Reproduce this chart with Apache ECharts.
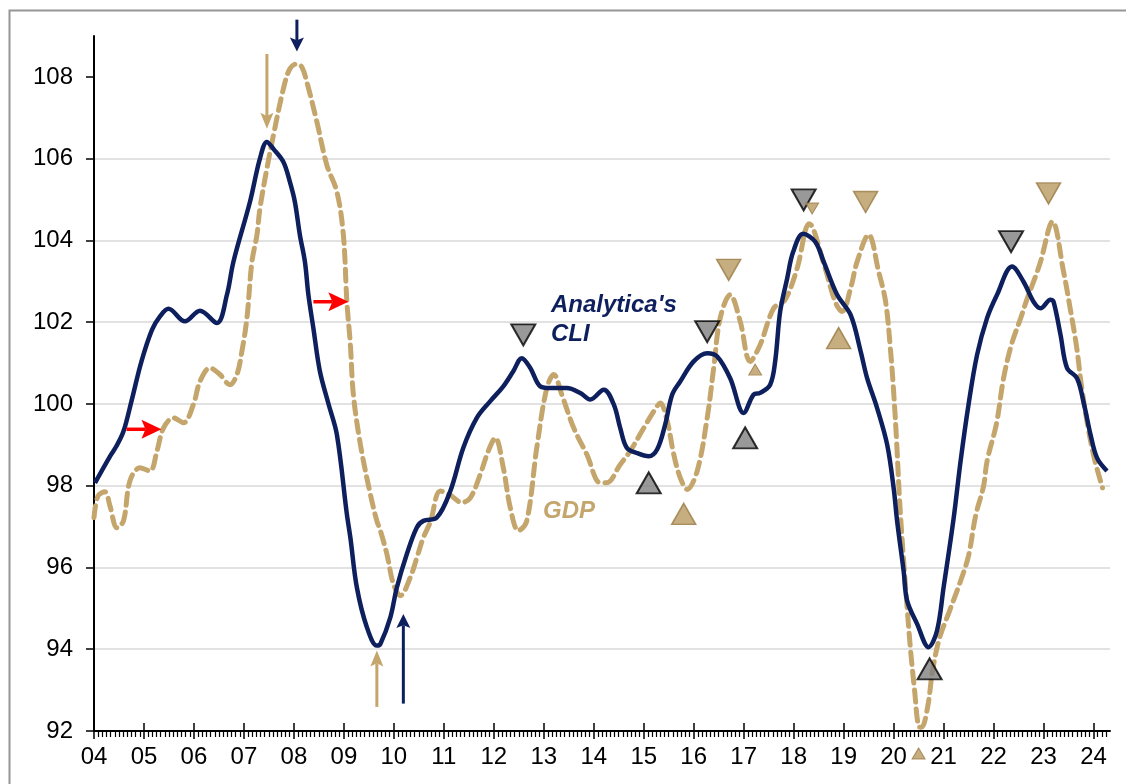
<!DOCTYPE html>
<html>
<head>
<meta charset="utf-8">
<script src="https://cdn.jsdelivr.net/npm/echarts@6/dist/echarts.min.js"></script>
<style>
html,body{margin:0;padding:0;background:#fff;}
#chart{width:1126px;height:784px;}
</style>
</head>
<body>
<div id="chart"></div>
<script>
// ---- Data ----
const yearTicks = [2004,2005,2006,2007,2008,2009,2010,2011,2012,2013,2014,2015,2016,2017,2018,2019,2020,2021,2022,2023,2024];
const valueTicks = [92,94,96,98,100,102,104,106,108];

const cliDates = [2004.02,2004.32,2004.45,2004.59,2004.75,2004.95,2005.16,2005.32,2005.49,2005.82,2006.12,2006.46,2006.66,2006.79,2007.12,2007.32,2007.46,2007.59,2007.79,2007.92,2008.02,2008.12,2008.22,2008.29,2008.39,2008.52,2008.69,2008.86,2009.06,2009.13,2009.26,2009.46,2009.66,2009.73,2009.93,2010.06,2010.26,2010.46,2010.59,2010.86,2011.13,2011.39,2011.66,2011.93,2012.19,2012.39,2012.56,2012.73,2012.93,2013.13,2013.46,2013.73,2013.93,2014.2,2014.4,2014.53,2014.66,2014.86,2015.1,2015.27,2015.43,2015.57,2015.73,2016.0,2016.27,2016.47,2016.73,2017.0,2017.2,2017.33,2017.53,2017.63,2017.73,2017.87,2017.99,2018.19,2018.43,2018.6,2018.87,2019.14,2019.34,2019.47,2019.67,2019.87,2020.0,2020.07,2020.2,2020.27,2020.47,2020.7,2020.87,2021.0,2021.2,2021.34,2021.5,2021.67,2021.87,2022.07,2022.37,2022.6,2022.8,2022.94,2023.14,2023.2,2023.34,2023.47,2023.67,2023.81,2023.94,2024.07,2024.27];
const cliValues = [98.07,98.72,98.97,99.33,100.07,101.04,101.81,102.14,102.33,102.02,102.28,101.98,102.67,103.48,104.94,106.0,106.41,106.24,105.92,105.43,104.94,104.13,103.48,102.67,101.85,100.8,100.01,99.25,97.3,96.73,95.51,94.54,94.09,94.13,94.78,95.51,96.33,96.98,97.14,97.22,97.87,98.93,99.66,100.07,100.43,100.8,101.12,100.88,100.43,100.39,100.39,100.27,100.11,100.35,99.99,99.41,98.93,98.8,98.72,98.89,99.5,100.23,100.55,101.04,101.24,101.16,100.63,99.78,100.23,100.27,100.47,101.04,102.26,103.07,103.72,104.16,103.97,103.48,102.67,102.18,101.29,100.63,99.9,99.01,97.95,97.14,95.92,95.19,94.62,94.05,94.46,95.51,97.19,98.6,99.99,101.2,102.1,102.67,103.36,102.99,102.5,102.34,102.55,102.5,101.69,100.88,100.63,99.99,99.25,98.68,98.36];

const gdpDates = [2004.0,2004.08,2004.22,2004.32,2004.46,2004.59,2004.72,2004.92,2005.12,2005.26,2005.39,2005.59,2005.79,2005.99,2006.12,2006.32,2006.52,2006.72,2006.86,2006.96,2007.06,2007.16,2007.26,2007.32,2007.46,2007.59,2007.79,2007.92,2008.06,2008.16,2008.26,2008.46,2008.66,2008.86,2008.99,2009.06,2009.13,2009.19,2009.33,2009.53,2009.66,2009.73,2009.86,2009.99,2010.13,2010.33,2010.46,2010.59,2010.73,2010.93,2011.13,2011.36,2011.53,2011.73,2011.89,2012.03,2012.19,2012.33,2012.49,2012.66,2012.86,2013.06,2013.2,2013.36,2013.6,2013.86,2014.13,2014.26,2014.53,2014.73,2015.0,2015.2,2015.33,2015.47,2015.6,2015.73,2015.87,2016.07,2016.27,2016.4,2016.53,2016.73,2016.93,2017.13,2017.33,2017.6,2017.83,2018.07,2018.31,2018.63,2018.83,2018.97,2019.14,2019.27,2019.5,2019.7,2019.84,2019.94,2020.0,2020.06,2020.12,2020.2,2020.26,2020.34,2020.42,2020.5,2020.56,2020.68,2020.78,2020.92,2021.12,2021.34,2021.5,2021.64,2021.8,2021.87,2022.06,2022.2,2022.36,2022.54,2022.68,2022.84,2022.94,2023.18,2023.4,2023.52,2023.66,2023.76,2023.88,2024.02,2024.18];
const gdpValues = [97.22,97.75,97.85,97.5,96.97,97.14,98.12,98.44,98.36,98.85,99.41,99.66,99.54,99.99,100.55,100.88,100.72,100.47,100.72,101.29,102.1,103.48,104.13,104.78,105.76,106.57,107.71,108.2,108.32,108.24,107.87,106.9,105.84,105.19,104.13,102.5,101.45,100.23,99.01,97.79,97.14,96.9,96.33,95.6,95.31,95.76,96.24,96.73,97.11,97.87,97.77,97.59,97.7,98.28,98.85,99.17,98.44,97.46,96.9,97.14,98.93,100.39,100.72,100.23,99.41,98.77,98.07,98.07,98.52,98.85,99.41,99.82,100.02,99.58,98.77,98.2,97.91,98.36,99.66,100.88,102.1,102.67,102.02,101.04,101.45,102.34,102.55,103.32,104.41,103.32,102.5,102.26,102.83,103.48,104.14,103.24,102.5,101.29,100.31,99.09,97.63,96.17,95.19,93.97,92.99,92.11,92.09,92.58,93.48,94.28,94.94,95.67,96.29,97.26,97.99,98.6,99.53,100.63,101.46,102.09,102.6,103.12,103.48,104.46,103.24,102.43,101.41,100.43,99.5,98.65,97.95];

// Turning-point markers (date, value)
const cliPeakDates = [2012.59,2016.27,2018.2,2022.35];
const cliPeakValues = [101.69,101.77,104.99,103.97];
const cliTroughDates = [2015.1,2017.03,2020.72];
const cliTroughValues = [98.07,99.17,93.52];
const gdpPeakDates = [2016.7,2019.44,2023.1];
const gdpPeakValues = [103.28,104.94,105.15];
const gdpSmallPeakDates = [2018.37];
const gdpSmallPeakValues = [104.78];
const gdpTroughDates = [2015.8,2018.9];
const gdpTroughValues = [97.31,101.61];
const gdpSmallTroughDates = [2017.23,2020.5];
const gdpSmallTroughValues = [100.84,91.45];

// Arrow annotations: [tailDate, tailValue, tipDate, tipValue]
const navyArrows = [[2008.06,109.4,2008.06,108.62],[2010.19,92.67,2010.19,94.86]];
const tanArrows = [[2007.46,108.56,2007.46,106.73],[2009.66,92.59,2009.66,93.97]];
const redArrows = [[2004.65,99.38,2005.35,99.38],[2008.39,102.5,2009.09,102.5]];

const NAVY = '#0e1f5e';
const TAN = '#c4a56c';
const FONT = 'Arial, "Liberation Sans", sans-serif';

function pairs(xs, ys){ return xs.map((x,i)=>[x, ys[i]]); }

const chart = echarts.init(document.getElementById('chart'), null, {renderer:'canvas'});
const baseGraphic = [
  {type:'rect', left:7, top:8, shape:{x:0,y:0,width:1300,height:900}, style:{fill:'none', stroke:'#969696', lineWidth:2}, z:-1},
  {type:'text', left:551, top:293, style:{text:"Analytica's", fill:NAVY, font:'italic bold 24px '+FONT}},
  {type:'text', left:551, top:322, style:{text:'CLI', fill:NAVY, font:'italic bold 24px '+FONT}},
  {type:'text', left:543, top:499, style:{text:'GDP', fill:TAN, font:'italic bold 24px '+FONT}}
];
const option = {
  backgroundColor:'#fff',
  animation:false,
  grid:{left:94, right:16, top:36, bottom:53, containLabel:false},
  xAxis:[{
    type:'value', min:2004, max:2024.33, interval:1,
    axisLine:{show:true, lineStyle:{color:'#000', width:2}},
    axisTick:{show:true, length:8, customValues:yearTicks, lineStyle:{color:'#000', width:1.5}},
    minorTick:{show:true, splitNumber:12, length:6, lineStyle:{color:'#000', width:1.2}},
    axisLabel:{customValues:yearTicks, formatter:v=>String(Math.round(v)%100).padStart(2,'0'), color:'#000', fontSize:24, fontFamily:FONT, margin:14},
    splitLine:{show:false}
  },{
    type:'value', min:2004, max:2024.33, interval:1, position:'bottom',
    axisLine:{show:false},
    axisTick:{show:true, inside:true, length:8, customValues:yearTicks, lineStyle:{color:'#000', width:1.5}},
    axisLabel:{show:false}, splitLine:{show:false}
  }],
  yAxis:{
    type:'value', min:92, max:109, interval:2,
    axisLine:{show:true, lineStyle:{color:'#000', width:2}},
    axisTick:{show:true, length:8, customValues:valueTicks, lineStyle:{color:'#000', width:1.5}},
    axisLabel:{customValues:valueTicks, color:'#000', fontSize:24, fontFamily:FONT, margin:21},
    splitLine:{show:true, showMinLine:false, showMaxLine:false, lineStyle:{color:'#d9d9d9', width:1.5}}
  },
  graphic:baseGraphic,
  series:[
    {
      name:'100 line', type:'line', data:[], clip:false, silent:true,
      markLine:{silent:true, symbol:['none','none'], label:{show:false},
        lineStyle:{color:'#000', width:2, type:'solid'},
        data:[[{coord:[2004,100]},{coord:[2024.47,100]}]]}
    },
    {
      name:'GDP', type:'line', data:pairs(gdpDates,gdpValues), smooth:0.35, showSymbol:false,
      lineStyle:{color:TAN, width:5, type:[12,7], cap:'round'}, z:3
    },
    {
      name:"Analytica's CLI", type:'line', data:pairs(cliDates,cliValues), smooth:0.35, showSymbol:false,
      lineStyle:{color:NAVY, width:4.5}, z:4
    },
    {
      name:'CLI peaks', type:'scatter', data:pairs(cliPeakDates,cliPeakValues), symbol:'triangle', symbolRotate:180, symbolSize:[24,21], clip:false,
      itemStyle:{color:'#808080', borderColor:'#000', borderWidth:2}, z:6
    },
    {
      name:'CLI troughs', type:'scatter', data:pairs(cliTroughDates,cliTroughValues), symbol:'triangle', symbolSize:[24,21], clip:false,
      itemStyle:{color:'#808080', borderColor:'#000', borderWidth:2}, z:6
    },
    {
      name:'GDP peaks', type:'scatter', data:pairs(gdpPeakDates,gdpPeakValues), symbol:'triangle', symbolRotate:180, symbolSize:[24,21], clip:false,
      itemStyle:{color:'#b89a60', borderColor:'#9a7b45', borderWidth:1.5}, z:6
    },
    {
      name:'GDP small peaks', type:'scatter', data:pairs(gdpSmallPeakDates,gdpSmallPeakValues), symbol:'triangle', symbolRotate:180, symbolSize:[13,11], clip:false,
      itemStyle:{color:'#b89a60', borderColor:'#9a7b45', borderWidth:1}, z:6
    },
    {
      name:'GDP troughs', type:'scatter', data:pairs(gdpTroughDates,gdpTroughValues), symbol:'triangle', symbolSize:[24,21], clip:false,
      itemStyle:{color:'#b89a60', borderColor:'#9a7b45', borderWidth:1.5}, z:6
    },
    {
      name:'GDP small troughs', type:'scatter', data:pairs(gdpSmallTroughDates,gdpSmallTroughValues), symbol:'triangle', symbolSize:[13,11], clip:false,
      itemStyle:{color:'#b89a60', borderColor:'#9a7b45', borderWidth:1}, z:6
    }
  ]
};
chart.setOption(option);

// Arrows: positioned through the chart's own coordinate conversion
function arrowGraphics(list, color, headLen, headW, lineW){
  const out = [];
  list.forEach(a=>{
    const p0 = chart.convertToPixel({gridIndex:0}, [a[0], a[1]]);
    const p1 = chart.convertToPixel({gridIndex:0}, [a[2], a[3]]);
    const dx = p1[0]-p0[0], dy = p1[1]-p0[1];
    const len = Math.sqrt(dx*dx+dy*dy);
    const ux = dx/len, uy = dy/len, nx = -uy, ny = ux;
    const bx = p1[0]-ux*headLen, by = p1[1]-uy*headLen;
    const kx = p1[0]-ux*headLen*0.8, ky = p1[1]-uy*headLen*0.8;
    out.push({type:'line', z:10, shape:{x1:p0[0], y1:p0[1], x2:kx, y2:ky}, style:{stroke:color, lineWidth:lineW}});
    out.push({type:'polygon', z:10, shape:{points:[[p1[0],p1[1]],[bx+nx*headW/2, by+ny*headW/2],[kx,ky],[bx-nx*headW/2, by-ny*headW/2]]}, style:{fill:color}});
  });
  return out;
}
chart.setOption({graphic: baseGraphic.concat(
  arrowGraphics(navyArrows, NAVY, 14, 14, 3),
  arrowGraphics(tanArrows, TAN, 16, 13, 3),
  arrowGraphics(redArrows, '#ff0000', 20, 19, 3.5)
)});
</script>
</body>
</html>
